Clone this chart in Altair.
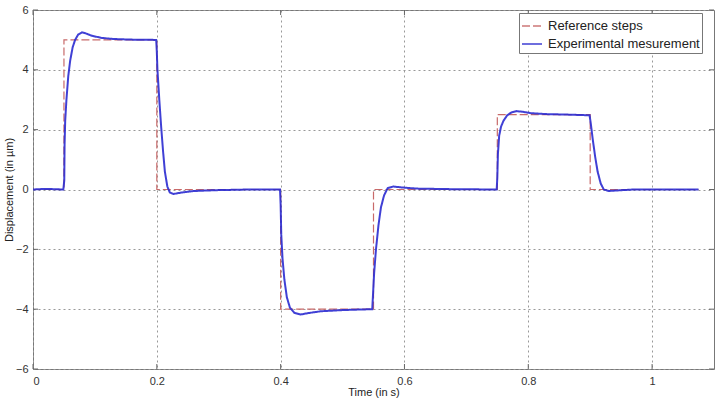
import altair as alt
import pandas as pd

# Reference steps (step-after)
ref_t = [0.0, 0.05, 0.2, 0.4, 0.55, 0.75, 0.9, 1.075]
ref_v = [0.0, 5.0, 0.0, -4.0, 0.0, 2.5, 0.0, 0.0]

# Experimental measurement
exp_t = [0.000, 0.020, 0.049, 0.0505, 0.051, 0.052, 0.054, 0.057, 0.060, 0.064, 0.068,
         0.073, 0.079, 0.085, 0.095, 0.110, 0.130, 0.160, 0.199,
         0.200, 0.201, 0.204, 0.207, 0.210, 0.213, 0.217, 0.221, 0.227, 0.240, 0.260,
         0.300, 0.350, 0.399,
         0.400, 0.401, 0.403, 0.406, 0.410, 0.415, 0.422, 0.432, 0.445, 0.465, 0.500, 0.548,
         0.549, 0.551, 0.554, 0.558, 0.562, 0.567, 0.573, 0.582, 0.595, 0.620, 0.680, 0.749,
         0.750, 0.751, 0.753, 0.756, 0.760, 0.766, 0.773, 0.781, 0.790, 0.805, 0.830, 0.870, 0.899,
         0.901, 0.904, 0.908, 0.912, 0.917, 0.922, 0.930, 0.945, 0.970, 1.000, 1.075]
exp_v = [0.00, 0.02, 0.00, 0.3, 1.5, 2.3, 3.0, 3.8, 4.3, 4.75, 5.0,
         5.18, 5.25, 5.22, 5.14, 5.07, 5.03, 5.01, 5.00,
         4.6, 4.0, 3.0, 2.1, 1.3, 0.6, 0.1, -0.1, -0.15, -0.1, -0.05,
         -0.02, 0.0, 0.0,
         -0.5, -1.5, -2.3, -3.0, -3.6, -3.95, -4.12, -4.18, -4.13, -4.07, -4.03, -4.0,
         -3.6, -2.8, -2.0, -1.2, -0.6, -0.2, 0.05, 0.1, 0.07, 0.03, 0.01, 0.0,
         0.4, 1.2, 1.8, 2.1, 2.3, 2.48, 2.58, 2.62, 2.6, 2.55, 2.52, 2.5, 2.48,
         2.2, 1.7, 1.1, 0.6, 0.2, 0.0, -0.05, -0.03, 0.0, 0.0, 0.0]

series_names = ["Reference steps", "Experimental mesurement"]
x_ticks = [0, 0.2, 0.4, 0.6, 0.8, 1.0]
y_ticks = [-6, -4, -2, 0, 2, 4, 6]

ref_df = pd.DataFrame({"t": ref_t, "v": ref_v, "s": series_names[0]})
exp_df = pd.DataFrame({"t": exp_t, "v": exp_v, "s": series_names[1]})
xt_df = pd.DataFrame({"t": x_ticks})
yt_df = pd.DataFrame({"v": y_ticks})

W, H = 681, 359

xscale = alt.Scale(domain=[0, 1.1], nice=False, zero=False)
yscale = alt.Scale(domain=[-6, 6], nice=False)

color = alt.Color("s:N", title=None,
                  scale=alt.Scale(domain=series_names, range=["#c86a6a", "#2b2bd0"]),
                  legend=alt.Legend(orient="none", legendX=486, legendY=3,
                                    symbolType="stroke", symbolSize=400,
                                    symbolStrokeWidth=1.5,
                                    labelFontSize=13, labelFont="Liberation Sans",
                                    labelColor="#222", labelLimit=300,
                                    rowPadding=-2, padding=2, labelOffset=5,
                                    strokeColor="#777", fillColor="white",
                                    cornerRadius=0))
dash = alt.StrokeDash("s:N", title=None,
                      scale=alt.Scale(domain=series_names, range=[[8, 3], [1, 0]]),
                      legend=None)

xaxis = alt.Axis(values=x_ticks, format="~g", title="Time (in s)", domain=False,
                 ticks=False, tickSize=0, labelPadding=6, titlePadding=0)
yaxis = alt.Axis(values=y_ticks, title="Displacement (in µm)", domain=False,
                 ticks=False, tickSize=0, labelPadding=5, titlePadding=1)

ref_line = alt.Chart(ref_df).mark_line(interpolate="step-after", strokeWidth=1.2).encode(
    x=alt.X("t:Q", scale=xscale, axis=xaxis),
    y=alt.Y("v:Q", scale=yscale, axis=yaxis),
    color=color, strokeDash=dash)

exp_line = alt.Chart(exp_df).mark_line(strokeWidth=2, opacity=0.9).encode(
    x=alt.X("t:Q", scale=xscale),
    y=alt.Y("v:Q", scale=yscale),
    color=color, strokeDash=dash)

tick_color = "#666"
xt_bottom = alt.Chart(xt_df).mark_rule(color=tick_color).encode(
    x=alt.X("t:Q", scale=xscale), y=alt.value(H), y2=alt.value(H - 5))
xt_top = alt.Chart(xt_df).mark_rule(color=tick_color).encode(
    x=alt.X("t:Q", scale=xscale), y=alt.value(0), y2=alt.value(5))
yt_left = alt.Chart(yt_df).mark_rule(color=tick_color).encode(
    y=alt.Y("v:Q", scale=yscale), x=alt.value(0), x2=alt.value(5))
yt_right = alt.Chart(yt_df).mark_rule(color=tick_color).encode(
    y=alt.Y("v:Q", scale=yscale), x=alt.value(W), x2=alt.value(W - 5))

chart = alt.layer(xt_bottom, xt_top, yt_left, yt_right, ref_line, exp_line).properties(
    width=W, height=H,
    autosize=alt.AutoSizeParams(type="none"),
    padding={"left": 33, "top": 10, "right": 7, "bottom": 32},
    background="white",
).configure_view(stroke="#777", strokeWidth=1).configure_axis(
    grid=True, gridColor="#999", gridDash=[2, 3], gridWidth=1,
    labelFont="Liberation Sans", labelFontSize=11, labelColor="#333",
    titleFont="Liberation Sans", titleFontSize=11, titleColor="#222",
    titleFontWeight="normal",
)

chart.save("out.html", embed_options={"renderer": "svg", "actions": False})
